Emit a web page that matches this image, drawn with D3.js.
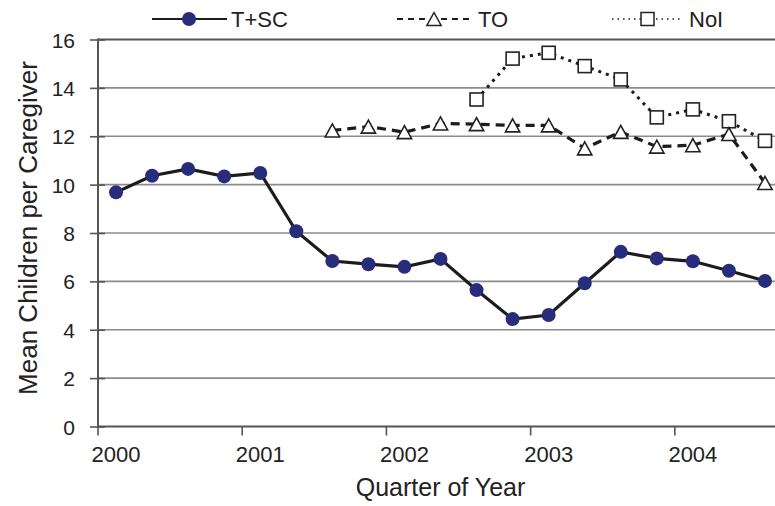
<!DOCTYPE html>
<html>
<head>
<meta charset="utf-8">
<script src="https://cdn.jsdelivr.net/npm/d3@7"></script>
<style>
  html, body { margin: 0; padding: 0; background: #fff; }
  svg { display: block; font-family: "Liberation Sans", Arial, Helvetica, sans-serif; }
</style>
</head>
<body>
<svg id="chart" width="775" height="506"></svg>
<script>
// ---- Data ----
const quarters = [
  "2000 Q1","2000 Q2","2000 Q3","2000 Q4",
  "2001 Q1","2001 Q2","2001 Q3","2001 Q4",
  "2002 Q1","2002 Q2","2002 Q3","2002 Q4",
  "2003 Q1","2003 Q2","2003 Q3","2003 Q4",
  "2004 Q1","2004 Q2","2004 Q3"
];
const yearTickLabels = ["2000","2001","2002","2003","2004"];
const yTickValues = [0, 2, 4, 6, 8, 10, 12, 14, 16];

// T+SC: all quarters
const tscValues = [9.68, 10.37, 10.65, 10.34, 10.48, 8.07, 6.84, 6.71, 6.60, 6.93,
                   5.64, 4.44, 4.61, 5.92, 7.22, 6.95, 6.83, 6.44, 6.02];
// TO: from 2001 Q3
const toQuarters = quarters.slice(6);
const toValues = [12.24, 12.40, 12.17, 12.53, 12.50, 12.45, 12.45, 11.50, 12.18,
                  11.57, 11.63, 12.09, 10.07];
// NoI: from 2002 Q3
const noiQuarters = quarters.slice(10);
const noiValues = [13.52, 15.21, 15.45, 14.90, 14.35, 12.78, 13.11, 12.62, 11.81];

const seriesNames = ["T+SC", "TO", "NoI"];

// ---- Layout ----
const svg = d3.select("#chart");
const plotLeft = 98, plotRight = 783, plotTop = 39.5, plotBottom = 426.5;

const x = d3.scaleBand().domain(quarters).range([plotLeft, plotRight]).paddingInner(0).paddingOuter(0);
const xc = q => x(q) + x.bandwidth() / 2;
const y = d3.scaleLinear().domain([0, 16]).range([plotBottom, plotTop]);

const gridColor = "#8c8c8c";
const axisColor = "#555";
const lineColor = "#1c1c1c";
const dotColor = "#272d7b";

// gridlines
svg.append("g").selectAll("line").data(yTickValues.filter(v => v > 0)).join("line")
  .attr("x1", plotLeft).attr("x2", 775)
  .attr("y1", d => y(d)).attr("y2", d => y(d))
  .attr("stroke", d => d === 16 ? "#555" : gridColor)
  .attr("stroke-width", d => d === 16 ? 2 : 1.6);

// y axis
const yAxis = d3.axisLeft(y).tickValues(yTickValues).tickSize(0).tickPadding(0)
  .tickFormat(d3.format("d"));
const gy = svg.append("g").attr("transform", `translate(${plotLeft},0)`).call(yAxis);
gy.select(".domain").remove();
gy.selectAll(".tick text").attr("x", -23).attr("dy", "0.36em")
  .attr("font-size", 21).attr("fill", "#222").attr("font-family", null);
gy.selectAll(".tick").append("line")
  .attr("x1", -8).attr("x2", 7).attr("stroke", axisColor).attr("stroke-width", 1.6);
svg.append("line").attr("x1", plotLeft).attr("x2", plotLeft).attr("y1", plotTop - 1).attr("y2", plotBottom + 1)
  .attr("stroke", axisColor).attr("stroke-width", 2);

// x axis
const yearQuarters = quarters.filter(q => q.endsWith("Q1"));
svg.append("line").attr("x1", plotLeft).attr("x2", 775).attr("y1", plotBottom).attr("y2", plotBottom)
  .attr("stroke", axisColor).attr("stroke-width", 2);
const gx = svg.append("g");
gx.selectAll("line").data(yearQuarters).join("line")
  .attr("x1", d => x(d)).attr("x2", d => x(d))
  .attr("y1", plotBottom).attr("y2", plotBottom + 9)
  .attr("stroke", axisColor).attr("stroke-width", 1.6);
gx.selectAll("text").data(yearQuarters).join("text")
  .attr("x", d => xc(d)).attr("y", 461.5)
  .attr("text-anchor", "middle").attr("font-size", 22).attr("fill", "#222")
  .text((d, i) => yearTickLabels[i]);

// axis titles
svg.append("text").attr("x", (plotLeft + plotRight) / 2).attr("y", 496)
  .attr("text-anchor", "middle").attr("font-size", 25).attr("fill", "#222")
  .text("Quarter of Year");
svg.append("text").attr("transform", "translate(36.5,228) rotate(-90)")
  .attr("text-anchor", "middle").attr("font-size", 26).attr("fill", "#222")
  .text("Mean Children per Caregiver");

// ---- Series ----
const line = d3.line().x(d => xc(d.q)).y(d => y(d.v));
const tscData = quarters.map((q, i) => ({ q, v: tscValues[i] }));
const toData = toQuarters.map((q, i) => ({ q, v: toValues[i] }));
const noiData = noiQuarters.map((q, i) => ({ q, v: noiValues[i] }));

const triPath = (s) => `M0,${-s/2}L${s*0.55},${s/2}L${-s*0.55},${s/2}Z`;

// NoI
svg.append("path").datum(noiData).attr("d", line).attr("fill", "none")
  .attr("stroke", lineColor).attr("stroke-width", 3).attr("stroke-dasharray", "3,5");
svg.append("g").selectAll("rect").data(noiData).join("rect")
  .attr("x", d => xc(d.q) - 6.5).attr("y", d => y(d.v) - 6.5)
  .attr("width", 13).attr("height", 13)
  .attr("fill", "#fff").attr("stroke", "#222").attr("stroke-width", 1.6);

// TO
svg.append("path").datum(toData).attr("d", line).attr("fill", "none")
  .attr("stroke", lineColor).attr("stroke-width", 3.2).attr("stroke-dasharray", "9,6");
svg.append("g").selectAll("path").data(toData).join("path")
  .attr("transform", d => `translate(${xc(d.q)},${y(d.v)})`)
  .attr("d", triPath(13))
  .attr("fill", "#fff").attr("stroke", "#222").attr("stroke-width", 1.6);

// T+SC
svg.append("path").datum(tscData).attr("d", line).attr("fill", "none")
  .attr("stroke", lineColor).attr("stroke-width", 3.2);
svg.append("g").selectAll("circle").data(tscData).join("circle")
  .attr("cx", d => xc(d.q)).attr("cy", d => y(d.v)).attr("r", 7)
  .attr("fill", dotColor);

// ---- Legend ----
const lg = svg.append("g");
const ly = 19;
// T+SC
lg.append("line").attr("x1", 152).attr("x2", 227).attr("y1", ly).attr("y2", ly)
  .attr("stroke", lineColor).attr("stroke-width", 2.2);
lg.append("circle").attr("cx", 189).attr("cy", ly).attr("r", 7).attr("fill", dotColor);
lg.append("text").attr("x", 231).attr("y", ly).attr("dy", "0.36em")
  .attr("font-size", 22).attr("fill", "#222").text(seriesNames[0]);
// TO
lg.append("line").attr("x1", 397).attr("x2", 471).attr("y1", ly).attr("y2", ly)
  .attr("stroke", lineColor).attr("stroke-width", 2).attr("stroke-dasharray", "6,5");
lg.append("path").attr("transform", `translate(434,${ly})`).attr("d", triPath(13))
  .attr("fill", "#fff").attr("stroke", "#222").attr("stroke-width", 1.5);
lg.append("text").attr("x", 478).attr("y", ly).attr("dy", "0.36em")
  .attr("font-size", 22).attr("fill", "#222").text(seriesNames[1]);
// NoI
lg.append("line").attr("x1", 612).attr("x2", 682).attr("y1", ly).attr("y2", ly)
  .attr("stroke", lineColor).attr("stroke-width", 1.5).attr("stroke-dasharray", "1.5,4");
lg.append("rect").attr("x", 641).attr("y", ly - 6.5).attr("width", 13).attr("height", 13)
  .attr("fill", "#fff").attr("stroke", "#222").attr("stroke-width", 1.5);
lg.append("text").attr("x", 689).attr("y", ly).attr("dy", "0.36em")
  .attr("font-size", 22).attr("fill", "#222").text(seriesNames[2]);
</script>
</body>
</html>
